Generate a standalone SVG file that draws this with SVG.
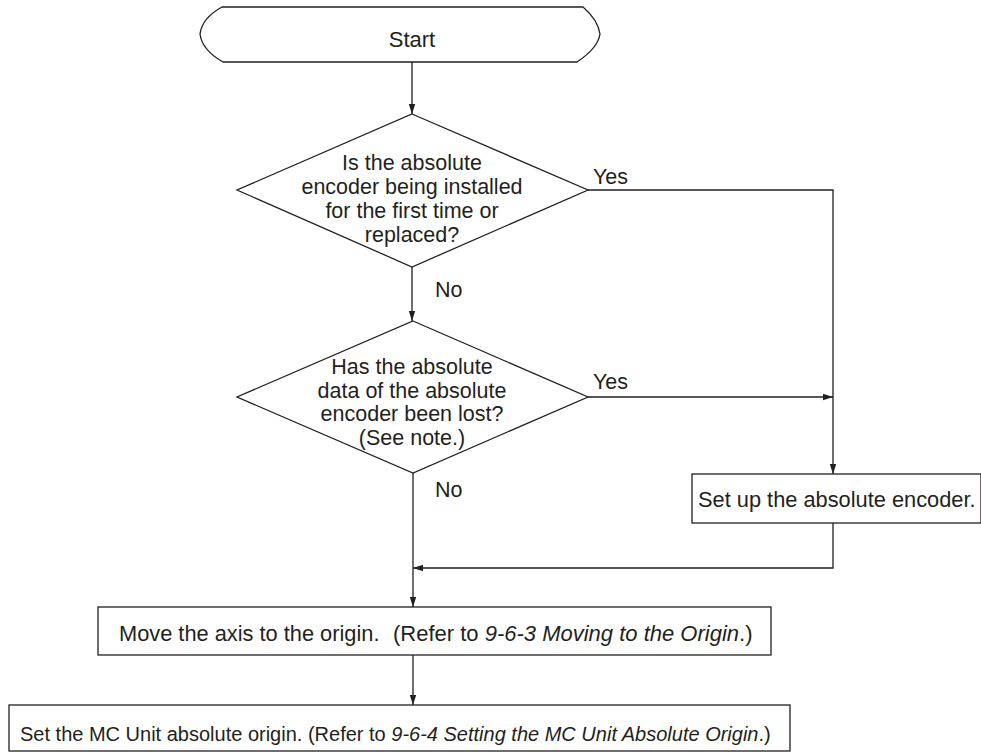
<svg xmlns="http://www.w3.org/2000/svg" width="981" height="752" viewBox="0 0 981 752">
<style>
.s{fill:#fff;stroke:#231f20;stroke-width:1.3}
.c{fill:none;stroke:#231f20;stroke-width:1.3}
text{font-family:"Liberation Sans",Arial,sans-serif;font-size:21.5px;fill:#231f20}
.m{text-anchor:middle}
.i{font-style:italic}
</style>
<defs>
<marker id="ah" markerWidth="10" markerHeight="8" refX="10" refY="4" orient="auto" markerUnits="userSpaceOnUse">
<path d="M0,0.8 L10,4 L0,7.2 z" fill="#231f20"/>
</marker>
</defs>
<rect width="981" height="752" fill="#fff"/>
<g id="connectors">
<path class="c" d="M412,62 V114" marker-end="url(#ah)"/>
<path class="c" d="M412,267 V321" marker-end="url(#ah)"/>
<path class="c" d="M588,190 H833 V474" marker-end="url(#ah)"/>
<path class="c" d="M588,397 H833" marker-end="url(#ah)"/>
<path class="c" d="M833,523 V568 H413" marker-end="url(#ah)"/>
<path class="c" d="M413,473 V607" marker-end="url(#ah)"/>
<path class="c" d="M413,655 V705" marker-end="url(#ah)"/>
</g>
<g id="start">
<path class="s" d="M222,7 H583 Q598,20 600,34 Q598,48 577,62 H223 Q202,50 200,34 Q202,18 222,7 Z"/>
<text class="m" x="412" y="47" style="font-size:22px">Start</text>
</g>
<g id="decision1">
<path class="s" d="M412,114 L588,190 L412,267 L237,190 Z"/>
<text class="m" x="412" y="170">Is the absolute</text>
<text class="m" x="412" y="194">encoder being installed</text>
<text class="m" x="412" y="218">for the first time or</text>
<text class="m" x="412" y="242">replaced?</text>
<text x="593" y="184">Yes</text>
<text x="435" y="297">No</text>
</g>
<g id="decision2">
<path class="s" d="M413,321 L588,397 L413,473 L237,397 Z"/>
<text class="m" x="412" y="374">Has the absolute</text>
<text class="m" x="412" y="398">data of the absolute</text>
<text class="m" x="412" y="421">encoder been lost?</text>
<text class="m" x="412" y="445">(See note.)</text>
<text x="593" y="389">Yes</text>
<text x="435" y="497">No</text>
</g>
<g id="setup">
<rect class="s" x="692" y="474" width="289" height="49"/>
<text x="698" y="507" style="font-size:21.8px">Set up the absolute encoder.</text>
</g>
<g id="move">
<rect class="s" x="98" y="607" width="673" height="48"/>
<text x="119" y="641" style="font-size:21.8px">Move the axis to the origin.</text>
<text x="393" y="641" style="font-size:22px">(Refer to <tspan class="i">9-6-3 Moving to the Origin</tspan>.)</text>
</g>
<g id="setorigin">
<rect class="s" x="9" y="705" width="781" height="46"/>
<text x="20" y="741" style="font-size:20px">Set the MC Unit absolute origin. (Refer to <tspan class="i">9-6-4 Setting the MC Unit Absolute Origin</tspan>.)</text>
</g>
</svg>
